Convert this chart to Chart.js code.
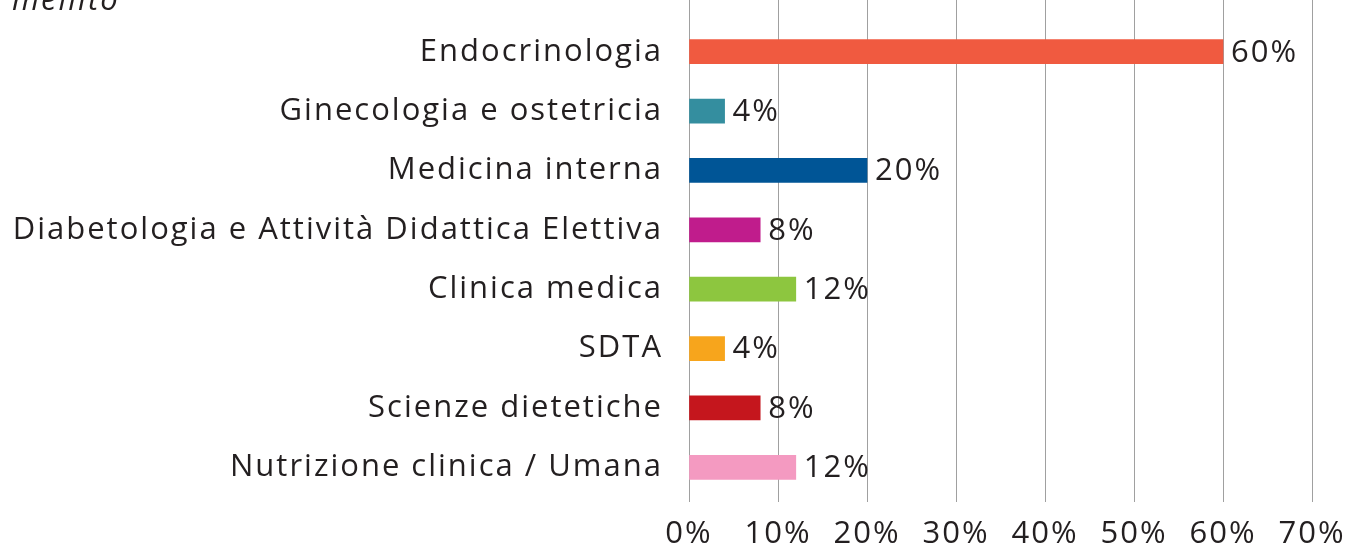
<!DOCTYPE html>
<html>
<head>
<meta charset="utf-8">
<script src="https://cdn.jsdelivr.net/npm/chart.js@4"></script>
<style>
  html, body { margin: 0; padding: 0; background: #fff; overflow: hidden; }
  #wrap { position: relative; width: 1365px; height: 552px; }
  #title { position: absolute; left: 12px; top: -23px; font: italic 31px "Open Sans", sans-serif; letter-spacing: 2px; color: #231f20; white-space: nowrap; }
</style>
</head>
<body>
<div id="wrap">
  <canvas id="reparti" width="1365" height="552"></canvas>
  <div id="title">mellito</div>
</div>
<script>
// dati
var categories = ['Endocrinologia', 'Ginecologia e ostetricia', 'Medicina interna',
  'Diabetologia e Attività Didattica Elettiva', 'Clinica medica', 'SDTA',
  'Scienze dietetiche', 'Nutrizione clinica / Umana'];
var percentages = [60, 4, 20, 8, 12, 4, 8, 12];
var barColors = ['#f05a40', '#348e9f', '#005596', '#c01c8c', '#8dc63f', '#f7a51c', '#c5161d', '#f49ac1'];
var xTicks = [0, 10, 20, 30, 40, 50, 60, 70];

var textColor = '#231f20';
var fontFamily = '"Open Sans", sans-serif';

// testo un po' più largo, come il font originale
var spacing = {
  id: 'spacing',
  beforeDraw: function (chart) {
    chart.ctx.letterSpacing = '2px';
  }
};

// etichette con il valore a destra di ogni barra
var valueLabels = {
  id: 'valueLabels',
  afterDatasetsDraw: function (chart) {
    var ctx = chart.ctx;
    var meta = chart.getDatasetMeta(0);
    ctx.save();
    ctx.fillStyle = textColor;
    ctx.font = '31px ' + fontFamily;
    ctx.textAlign = 'left';
    ctx.textBaseline = 'middle';
    meta.data.forEach(function (bar, i) {
      ctx.fillText(percentages[i] + '%', bar.x + 8, bar.y + 1);
    });
    ctx.restore();
  }
};

// le linee della griglia salgono fino al bordo superiore
var gridUp = {
  id: 'gridUp',
  beforeDatasetsDraw: function (chart) {
    var ctx = chart.ctx;
    var xs = chart.scales.x;
    ctx.save();
    ctx.strokeStyle = '#a0a0a0';
    ctx.lineWidth = 1;
    xTicks.forEach(function (v) {
      var px = Math.round(xs.getPixelForValue(v)) + 0.5;
      ctx.beginPath();
      ctx.moveTo(px, 0);
      ctx.lineTo(px, chart.chartArea.top);
      ctx.stroke();
    });
    ctx.restore();
  }
};

var ctx = document.getElementById('reparti').getContext('2d');
var chart = new Chart(ctx, {
  type: 'bar',
  data: {
    labels: categories,
    datasets: [{
      data: percentages,
      backgroundColor: barColors,
      borderWidth: 0,
      barThickness: 24
    }]
  },
  options: {
    indexAxis: 'y',
    responsive: false,
    animation: false,
    devicePixelRatio: 1,
    layout: { padding: { top: 22, left: 0, right: 53, bottom: 0 } },
    plugins: {
      legend: { display: false },
      tooltip: { enabled: false }
    },
    scales: {
      x: {
        min: 0,
        max: 70,
        afterBuildTicks: function (scale) {
          scale.ticks = xTicks.map(function (v) { return { value: v }; });
        },
        afterFit: function (scale) { scale.height = 55; },
        grid: { color: '#a0a0a0', lineWidth: 1, tickLength: 5, drawTicks: true },
        border: { display: false },
        ticks: {
          color: textColor,
          font: { family: fontFamily, size: 31 },
          padding: 14,
          maxRotation: 0,
          callback: function (v) { return v + '%'; }
        }
      },
      y: {
        afterFit: function (scale) { scale.width = 689; },
        grid: { display: false, drawTicks: true, tickLength: 26 },
        border: { display: false },
        ticks: {
          color: textColor,
          font: { family: fontFamily, size: 31 },
          padding: 0
        }
      }
    }
  },
  plugins: [spacing, gridUp, valueLabels]
});
</script>
</body>
</html>
